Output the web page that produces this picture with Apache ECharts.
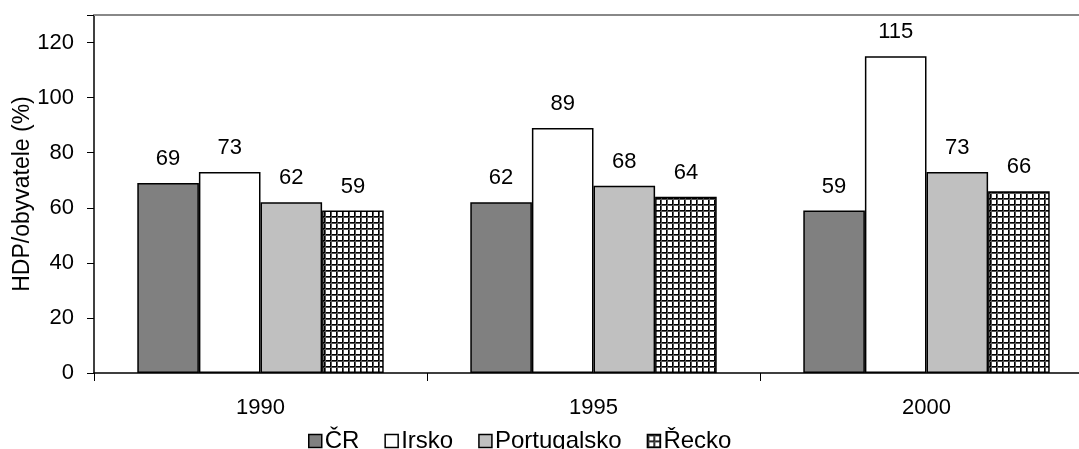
<!DOCTYPE html>
<html><head><meta charset="utf-8">
<script src="https://cdn.jsdelivr.net/npm/echarts@6/dist/echarts.min.js"></script>
<style>html,body{margin:0;padding:0;background:#fff}#c{width:1079px;height:449px}</style>
</head><body><div id="c"></div>
<script>
var categories = ['1990', '1995', '2000'];
var seriesNames = ['ČR', 'Irsko', 'Portugalsko', 'Řecko'];
var valuesCR = [69, 62, 59];
var valuesIrsko = [73, 89, 115];
var valuesPortugalsko = [62, 68, 73];
var valuesRecko = [59, 64, 66];

var pc = document.createElement('canvas');
pc.width = 6; pc.height = 6;
var g = pc.getContext('2d');
g.fillStyle = '#fff'; g.fillRect(0, 0, 6, 6);
g.fillStyle = '#000'; g.fillRect(0, 0, 6, 1); g.fillRect(0, 0, 1, 6);
g.fillStyle = '#555'; g.fillRect(0, 1, 6, 1); g.fillRect(1, 0, 1, 6);
var hatch = {image: pc, repeat: 'repeat'};

var font = '"Liberation Sans", Arial, sans-serif';
var fs = 22;
var chart = echarts.init(document.getElementById('c'));
function mk(name, data, color) {
  return {
    name: name, type: 'bar', data: data, barGap: '0%', barCategoryGap: '26%',
    itemStyle: {color: color, borderColor: '#000', borderWidth: 1.5},
    label: {show: true, position: 'top', distance: 13, color: '#000', fontSize: fs, fontFamily: font},
    emphasis: {disabled: true}
  };
}
chart.setOption({
  animation: false,
  grid: {left: 94, right: -14, top: 15, bottom: 76, containLabel: false, outerBoundsMode: 'none'},
  legend: {
    top: 424, left: 303, itemWidth: 13, itemHeight: 13, itemGap: 25,
    textStyle: {fontSize: 24, fontFamily: font, color: '#000', padding: [0, 0, 4, -2]},
    data: seriesNames.map(function (n) {
      return {name: n, icon: 'rect', itemStyle: {borderColor: '#000', borderWidth: 1.5}};
    })
  },
  xAxis: [{
    type: 'category', data: categories,
    axisLine: {lineStyle: {color: '#000', width: 1.5}},
    axisTick: {show: true, length: 8, lineStyle: {color: '#000'}},
    axisLabel: {fontSize: fs, fontFamily: font, color: '#000', margin: 24}
  }, {
    type: 'category', data: categories, position: 'top',
    axisLine: {lineStyle: {color: '#888', width: 2}},
    axisTick: {show: false}, axisLabel: {show: false}
  }],
  yAxis: {
    type: 'value', min: 0, max: 130, interval: 20,
    name: 'HDP/obyvatele (%)', nameLocation: 'middle', nameGap: 60, nameRotate: 90,
    nameMoveOverlap: false,
    nameTextStyle: {fontSize: 23, fontFamily: font, color: '#000'},
    axisLine: {show: true, lineStyle: {color: '#000', width: 1.5}},
    axisTick: {show: true, length: 7, lineStyle: {color: '#000'}},
    axisLabel: {fontSize: fs, fontFamily: font, color: '#000', margin: 20,
      formatter: function (v) { return v === 130 ? '' : v; }},
    splitLine: {show: false}
  },
  series: [
    mk(seriesNames[0], valuesCR, '#808080'),
    mk(seriesNames[1], valuesIrsko, '#ffffff'),
    mk(seriesNames[2], valuesPortugalsko, '#c0c0c0'),
    mk(seriesNames[3], valuesRecko, hatch)
  ]
});
</script></body></html>
